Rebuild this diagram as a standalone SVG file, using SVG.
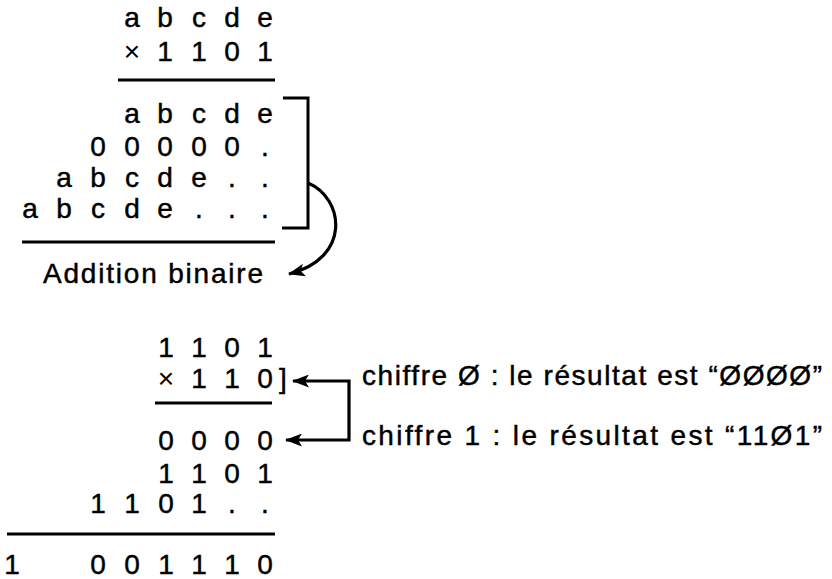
<svg xmlns="http://www.w3.org/2000/svg" width="832" height="579" viewBox="0 0 832 579">
<style>
text{font-family:"Liberation Sans",Arial,sans-serif;font-size:28px;fill:#000;stroke:#000;stroke-width:0.45}
.c{text-anchor:middle}
.x{stroke:none}
.rule{stroke:#000;stroke-width:3;fill:none}
.conn{stroke:#000;stroke-width:3.2;fill:none}
</style>
<defs>
<marker id="ah" viewBox="0 0 17 13" refX="16" refY="6.5" markerWidth="17" markerHeight="13" markerUnits="userSpaceOnUse" orient="auto-start-reverse">
<path d="M0,0 L17,6.5 L0,13 L4,6.5 z" fill="#000"/>
</marker>
</defs>
<rect width="832" height="579" fill="#fff"/>
<g id="mult1">
<text class="c" x="132 165 199 232 265" y="27">abcde</text>
<text class="c" x="165 199 232 265" y="61">1101</text>
<text class="c x" x="132" y="61">×</text>
<line class="rule" x1="118" y1="80" x2="275" y2="80"/>
<text class="c" x="132 165 199 232 265" y="123">abcde</text>
<text class="c" x="98 132 165 199 232 265" y="156">00000.</text>
<text class="c" x="64 98 132 165 199 232 265" y="187">abcde..</text>
<text class="c" x="30 64 98 132 165 199 232 265" y="218">abcde...</text>
<path class="rule" d="M283,98 H308 V228 H282"/>
<line class="rule" x1="22" y1="242" x2="275" y2="242"/>
</g>
<g id="label-addition">
<text x="43" y="283" textLength="220" lengthAdjust="spacing">Addition binaire</text>
</g>
<g id="mult2">
<text class="c" x="166 199 232 265" y="357">1101</text>
<text class="c x" x="166" y="388">×</text>
<text class="c" x="199 232 265 283" y="388">110]</text>
<line class="rule" x1="155" y1="403" x2="272" y2="403"/>
<text class="c" x="166 199 232 265" y="450">0000</text>
<text class="c" x="166 199 232 265" y="483">1101</text>
<text class="c" x="98 132 166 199 232 265" y="513">1101..</text>
<line class="rule" x1="7" y1="534" x2="275" y2="534"/>
<text class="c" x="12 98 132 166 199 232 265" y="574">1001110</text>
</g>
<g id="label-chiffre0">
<text x="362" y="385" textLength="460" lengthAdjust="spacing">chiffre Ø : le résultat est “ØØØØ”</text>
</g>
<g id="label-chiffre1">
<text x="362" y="445" textLength="460" lengthAdjust="spacing">chiffre 1 : le résultat est “11Ø1”</text>
</g>
<g id="connectors">
<path class="conn" d="M308,183 C344,198 352,258 289,274" marker-end="url(#ah)"/>
<path class="conn" d="M293,381 H349 V440 H286" marker-start="url(#ah)" marker-end="url(#ah)"/>
</g>
</svg>
